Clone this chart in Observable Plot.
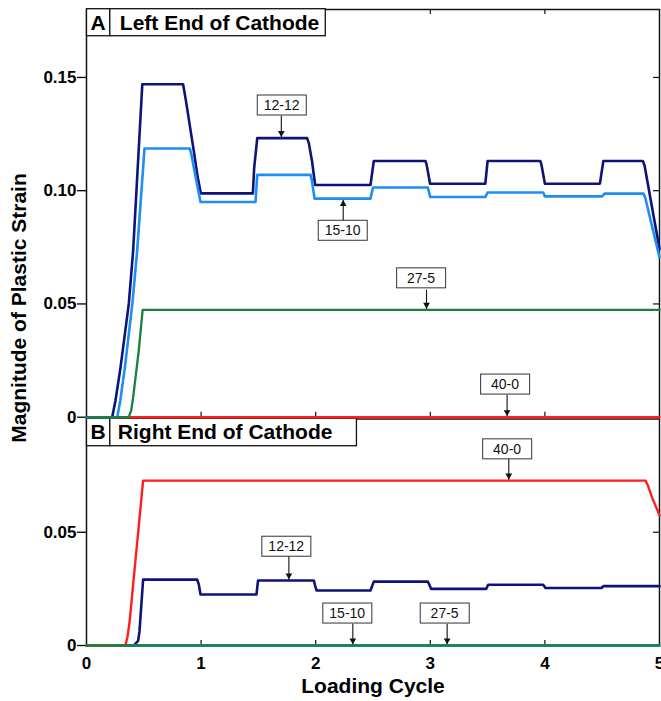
<!DOCTYPE html>
<html>
<head>
<meta charset="utf-8">
<script src="https://cdn.jsdelivr.net/npm/d3@7"></script>
<script src="https://cdn.jsdelivr.net/npm/@observablehq/plot@0.6"></script>
<style>
  body { margin: 0; background: #fff; }
  #chart { position: relative; width: 661px; height: 701px; font-family: "Liberation Sans", Arial, Helvetica, sans-serif; color: #000; }
  #chart svg { position: absolute; left: 0; top: 0; overflow: visible; }
  #ylabel {
    position: absolute; left: 19px; top: 308px;
    transform: translate(-50%, -50%) rotate(-90deg);
    white-space: nowrap; font-size: 21px; font-weight: bold;
  }
</style>
</head>
<body>
<div id="chart"><div id="ylabel">Magnitude of Plastic Strain</div></div>
<script>
// ---- Tick values -------------------------------------------------------
const cycleTicks = [0, 1, 2, 3, 4, 5];
const strainTicksLeft = [0, 0.05, 0.10, 0.15];
const strainTicksRight = [0, 0.05];

// ---- Panel titles ------------------------------------------------------
const panelLetters = ["A", "B"];
const panelTitles = ["Left End of Cathode", "Right End of Cathode"];

// ---- Plastic strain vs loading cycle: left end of cathode ([cycle, strain]) ----
const left1212 = [[0,0],[0.224,0],[0.253,0.0074],[0.297,0.022],[0.369,0.05],[0.407,0.0735],[0.487,0.147],
  [0.843,0.147],[0.87,0.139],[0.936,0.1176],[0.97,0.106],[0.998,0.0988],[1.452,0.0988],[1.463,0.11],[1.49,0.1232],
  [1.925,0.1232],[1.94,0.121],[1.968,0.113],[1.995,0.1025],[2.478,0.1025],[2.507,0.1131],[2.958,0.1131],
  [2.968,0.1115],[2.998,0.1031],[3.48,0.1031],[3.5,0.1131],[3.96,0.1131],[3.97,0.1115],[4.0,0.1031],
  [4.48,0.1031],[4.51,0.1131],[4.855,0.1131],[4.87,0.111],[5,0.0743]];
const left1510 = [[0,0],[0.268,0],[0.295,0.0074],[0.335,0.022],[0.40,0.05],[0.442,0.0734],[0.506,0.1186],
  [0.902,0.1186],[0.915,0.116],[0.95,0.1066],[0.995,0.095],[1.475,0.095],[1.49,0.107],[1.955,0.107],
  [1.965,0.105],[1.99,0.0965],[2.478,0.0965],[2.5,0.1014],[2.978,0.1014],[2.985,0.1],[3.0,0.0972],
  [3.48,0.0972],[3.5,0.0992],[3.985,0.0992],[4.0,0.0975],[4.5,0.0975],[4.52,0.0987],[4.86,0.0987],
  [4.875,0.097],[5,0.0706]];
const left275 = [[0,0],[0.369,0],[0.39,0.003],[0.407,0.0088],[0.456,0.0294],[0.49,0.0474],[5,0.0474]];
const left400 = [[0,0],[5,0]];

// ---- Plastic strain vs loading cycle: right end of cathode ----
const right400 = [[0,0],[0.34,0],[0.358,0.004],[0.375,0.01],[0.494,0.0728],[4.878,0.0728],[4.9,0.0705],
  [4.935,0.0654],[5,0.0575]];
const right1212 = [[0,0],[0.413,0],[0.45,0.002],[0.462,0.006],[0.494,0.0291],[0.966,0.0291],[0.98,0.027],
  [0.995,0.0225],[1.483,0.0225],[1.497,0.0287],[1.984,0.0287],[1.993,0.0268],[2.007,0.0243],[2.478,0.0243],
  [2.507,0.0282],[2.978,0.0282],[2.99,0.027],[3.007,0.025],[3.488,0.025],[3.505,0.0268],[3.985,0.0268],
  [4.005,0.0254],[4.494,0.0254],[4.51,0.0262],[5,0.0262]];
const right1510 = [[0,0],[5,0]];
const right275 = [[0,0],[5,0]];

// ---- Callouts: label, label centre (lx, ly), arrow x, arrow from -> to (strain) ----
const notesLeft = [
  {label: "12-12", lx: 1.703, ly: 0.1376, ax: 1.70,  from: 0.1331, to: 0.1232},
  {label: "15-10", lx: 2.235, ly: 0.0823, ax: 2.24,  from: 0.0867, to: 0.0964},
  {label: "27-5",  lx: 2.919, ly: 0.0613, ax: 2.967, from: 0.0563, to: 0.0474},
  {label: "40-0",  lx: 3.652, ly: 0.0144, ax: 3.67,  from: 0.0099, to: 0}
];
const notesRight = [
  {label: "40-0",  lx: 3.67,  ly: 0.0866, ax: 3.685, from: 0.0824, to: 0.0728},
  {label: "12-12", lx: 1.743, ly: 0.0436, ax: 1.766, from: 0.0397, to: 0.0287},
  {label: "15-10", lx: 2.275, ly: 0.0141, ax: 2.324, from: 0.0096, to: 0},
  {label: "27-5",  lx: 3.125, ly: 0.0141, ax: 3.147, from: 0.0096, to: 0}
];

// ---- Styling ----
const FONT = "'Liberation Sans', Arial, Helvetica, sans-serif";
const palette = {"12-12": "#0e1378", "15-10": "#1e8ef4", "27-5": "#19803d", "40-0": "#ff1e1e"};
const widths = {"12-12": 2.6, "15-10": 2.6, "27-5": 2.3, "40-0": 2.4};
const W = 661, ML = 86, MR = 2;
const frameW = W - ML - MR;
const fmt = d => d === 0 ? "0" : d.toFixed(2);

const rows = (name, pts) => pts.map(([c, s]) => ({series: name, cycle: c, strain: s}));
const lineMarks = list => list.map(([name, pts]) =>
  Plot.line(rows(name, pts), {x: "cycle", y: "strain", stroke: palette[name], strokeWidth: widths[name]}));

function noteMarks(notes) {
  const down = notes.filter(d => d.from > d.to);
  const up = notes.filter(d => d.from < d.to);
  return [
    Plot.link(notes, {x1: "ax", x2: "ax", y1: "from", y2: "to", stroke: "#111", strokeWidth: 1.1}),
    Plot.dot(down, {x: "ax", y: "to", symbol: "triangle", r: 2.5, fill: "#111", stroke: "none", rotate: 180, dy: -5.1}),
    Plot.dot(up, {x: "ax", y: "to", symbol: "triangle", r: 2.5, fill: "#111", stroke: "none", dy: 5.1}),
    Plot.text(notes, {x: "lx", y: "ly", text: "label", fontSize: 14, fill: "#111", ariaDescription: "note"})
  ];
}

function titleMarks(i, dy, dxTitle) {
  return [
    Plot.text([panelLetters[i]], {text: d => d, frameAnchor: "top-left", textAnchor: "start", lineAnchor: "middle",
      dx: 4, dy, fontSize: 21, fontWeight: "bold", fill: "#000", ariaDescription: "panel-letter"}),
    Plot.text([panelTitles[i]], {text: d => d, frameAnchor: "top-left", textAnchor: "start", lineAnchor: "middle",
      dx: dxTitle, dy, fontSize: 21, fontWeight: "bold", fill: "#000", ariaDescription: "panel-title"})
  ];
}

const axisStyle = {fontSize: 17, fontWeight: "bold", strokeWidth: 1.3, fill: "#000"};

// ---- Panel B: right end of cathode (drawn first, underneath) ----
const hB = 701, mtB = 418.5, mbB = 56;
const frameHB = hB - mtB - mbB;
const plotB = Plot.plot({
  width: W, height: hB, marginTop: mtB, marginBottom: mbB, marginLeft: ML, marginRight: MR,
  style: {fontFamily: FONT, background: "none", overflow: "visible", color: "#000"},
  x: {domain: [0, 5], axis: null},
  y: {domain: [0, 0.1], axis: null},
  marks: [
    Plot.axisY(strainTicksRight, {anchor: "left", tickSize: 9, tickPadding: 1, tickFormat: fmt, label: null, ...axisStyle}),
    Plot.axisX(cycleTicks, {anchor: "bottom", tickSize: 0, tickPadding: 11, tickFormat: d => String(d), label: null, ...axisStyle}),
    Plot.text(["Loading Cycle"], {text: d => d, frameAnchor: "bottom", dy: 47, fontSize: 21, fontWeight: "bold", fill: "#000"}),
    Plot.tickX(cycleTicks.slice(1, -1), {x: d => d, insetTop: frameHB - 5, stroke: "#111", strokeWidth: 1.2}),
    Plot.tickY([0.05], {y: d => d, insetLeft: frameW - 6, stroke: "#111", strokeWidth: 1.2}),
    Plot.frame({stroke: "#111", strokeWidth: 1.5}),
    ...noteMarks(notesRight),
    ...lineMarks([["12-12", right1212], ["15-10", right1510], ["40-0", right400], ["27-5", right275]]),
    ...titleMarks(1, 13.75, 31.3)
  ]
});

// ---- Panel A: left end of cathode ----
const hA = 420, mtA = 9, mbA = 3.3;
const frameHA = hA - mtA - mbA;
const plotA = Plot.plot({
  width: W, height: hA, marginTop: mtA, marginBottom: mbA, marginLeft: ML, marginRight: MR,
  style: {fontFamily: FONT, background: "none", overflow: "visible", color: "#000"},
  x: {domain: [0, 5], axis: null},
  y: {domain: [0, 0.18], axis: null},
  marks: [
    Plot.axisY(strainTicksLeft, {anchor: "left", tickSize: 9, tickPadding: 1, tickFormat: fmt, label: null, ...axisStyle}),
    Plot.tickX(cycleTicks.slice(1, -1), {x: d => d, insetBottom: frameHA - 5, stroke: "#111", strokeWidth: 1.2}),
    Plot.tickX(cycleTicks.slice(1, -1), {x: d => d, insetTop: frameHA - 5, stroke: "#111", strokeWidth: 1.2}),
    Plot.tickY(strainTicksLeft.slice(1), {y: d => d, insetLeft: frameW - 6, stroke: "#111", strokeWidth: 1.2}),
    Plot.frame({stroke: "#111", strokeWidth: 1.5}),
    ...noteMarks(notesLeft),
    ...lineMarks([["40-0", left400], ["12-12", left1212], ["15-10", left1510], ["27-5", left275]]),
    ...titleMarks(0, 13.5, 33.3)
  ]
});

const chart = document.getElementById("chart");
chart.appendChild(plotB);
chart.appendChild(plotA);

// Draw a bordered white box behind each text of a tagged mark.
function boxTexts(svg, tag, opt) {
  svg.querySelectorAll(`g[aria-description="${tag}"] text`).forEach(t => {
    const b = t.getBBox();
    let x0, x1;
    if (opt.width) {
      const cx = b.x + b.width / 2;
      x0 = cx - opt.width / 2; x1 = cx + opt.width / 2;
    } else {
      x0 = b.x - opt.padL; x1 = b.x + b.width + opt.padR;
    }
    const cy = b.y + b.height / 2;
    const r = document.createElementNS("http://www.w3.org/2000/svg", "rect");
    r.setAttribute("x", x0);
    r.setAttribute("y", cy - opt.height / 2);
    r.setAttribute("width", x1 - x0);
    r.setAttribute("height", opt.height);
    r.setAttribute("fill", "#fff");
    r.setAttribute("stroke", opt.stroke || "#333");
    r.setAttribute("stroke-width", opt.strokeWidth || 1);
    const tr = t.getAttribute("transform");
    if (tr) r.setAttribute("transform", tr);
    t.parentNode.insertBefore(r, t);
  });
}

boxTexts(plotA, "note", {width: 49, height: 20});
boxTexts(plotB, "note", {width: 49, height: 20});
boxTexts(plotA, "panel-letter", {padL: 4, padR: 4, height: 27, stroke: "#111", strokeWidth: 1.3});
boxTexts(plotA, "panel-title", {padL: 10, padR: 6, height: 27, stroke: "#111", strokeWidth: 1.3});
boxTexts(plotB, "panel-letter", {padL: 4, padR: 4, height: 27.5, stroke: "#111", strokeWidth: 1.3});
boxTexts(plotB, "panel-title", {padL: 8, padR: 24, height: 27.5, stroke: "#111", strokeWidth: 1.3});
</script>
</body>
</html>
